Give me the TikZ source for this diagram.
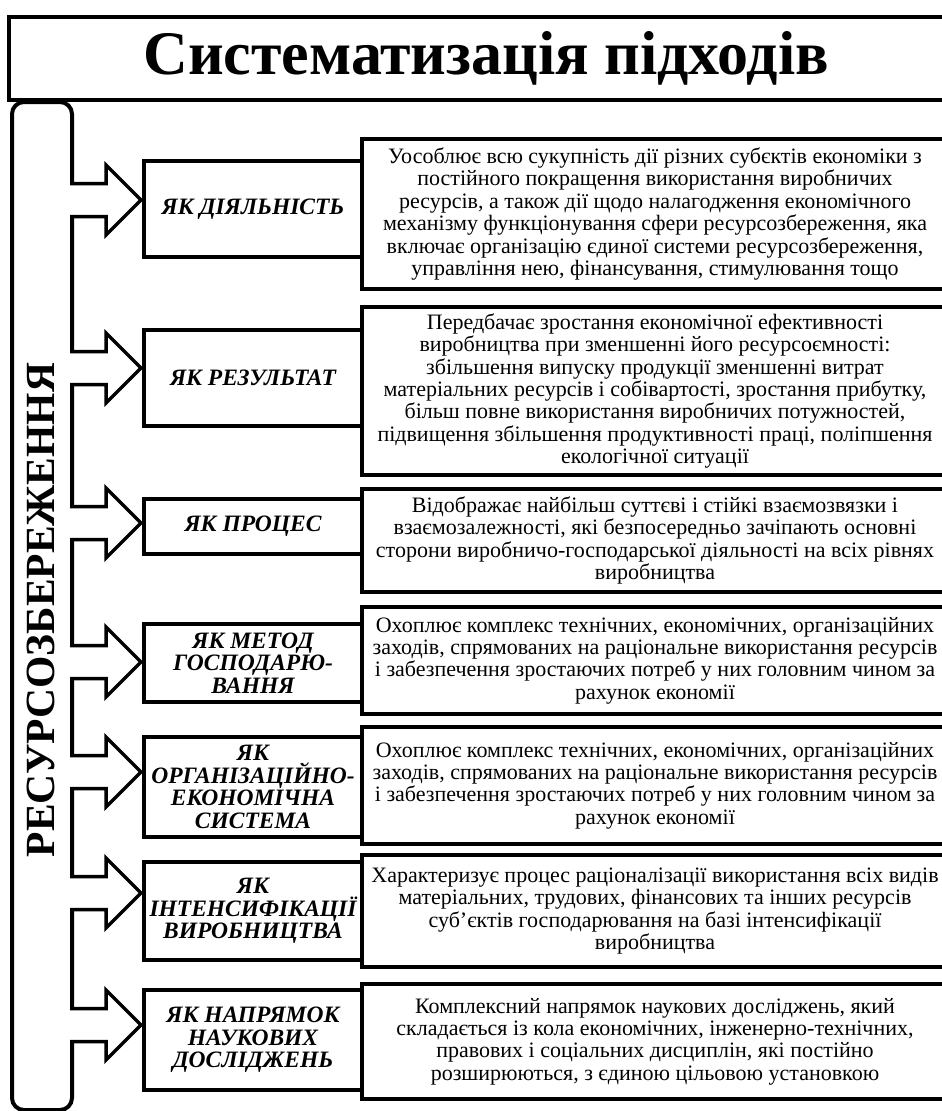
\documentclass[tikz,border=0pt]{standalone}
\usepackage{fontspec}
\setmainfont{Liberation Serif}
\usetikzlibrary{calc}
\begin{document}
\begin{tikzpicture}[x=1pt,y=-1pt,
  box/.style={draw, line width=4pt, fill=white, inner sep=0pt, align=center, anchor=north west},
  lab/.style={box, minimum width=218pt, font=\fontsize{23.5}{22.5}\selectfont\bfseries\itshape},
  desc/.style={box, minimum width=586pt, font=\fontsize{22}{22.4}\selectfont},
  blockarrow/.style={draw, line width=3.5pt, fill=white, line join=miter}
]
\clip (0,0) rectangle (942,1111);
\fill[white] (0,0) rectangle (942,1111);

% title
\node[box, minimum width=960pt, minimum height=83pt] (title) at (7,15) {};
\node[font=\fontsize{62}{62}\selectfont\bfseries] (titletext) at (486,58) {Систематизація підходів};

% left bar
\node[draw, line width=4pt, rounded corners=12pt, minimum width=60pt, minimum height=1008pt, anchor=north west, inner sep=0pt] (bar) at (10,100) {};
\node[rotate=90, font=\fontsize{41.5}{42}\selectfont\bfseries] (bartext) at (41,610) {РЕСУРСОЗБЕРЕЖЕННЯ};

% description boxes
\node[desc, minimum height=150pt] (d1) at (360,137) {Уособлює всю сукупність дії різних субєктів економіки з\\постійного покращення використання виробничих\\ресурсів, а також дії щодо налагодження економічного\\механізму функціонування сфери ресурсозбереження, яка\\включає організацію єдиної системи ресурсозбереження,\\управління нею, фінансування, стимулювання тощо};
\node[desc, minimum height=168pt] (d2) at (360,305) {Передбачає зростання економічної ефективності\\виробництва при зменшенні його ресурсоємності:\\збільшення випуску продукції зменшенні витрат\\матеріальних ресурсів і собівартості, зростання прибутку,\\більш повне використання виробничих потужностей,\\підвищення збільшення продуктивності праці, поліпшення\\екологічної ситуації};
\node[desc, minimum height=103pt] (d3) at (360,487) {Відображає найбільш суттєві і стійкі взаємозвязки і\\взаємозалежності, які безпосередньо зачіпають основні\\сторони виробничо-господарської діяльності на всіх рівнях\\виробництва};
\node[desc, minimum height=107pt] (d4) at (360,605) {Охоплює комплекс технічних, економічних, організаційних\\заходів, спрямованих на раціональне використання ресурсів\\і забезпечення зростаючих потреб у них головним чином за\\рахунок економії};
\node[desc, minimum height=117pt] (d5) at (360,725) {Охоплює комплекс технічних, економічних, організаційних\\заходів, спрямованих на раціональне використання ресурсів\\і забезпечення зростаючих потреб у них головним чином за\\рахунок економії};
\node[desc, minimum height=112pt] (d6) at (360,853) {Характеризує процес раціоналізації використання всіх видів\\матеріальних, трудових, фінансових та інших ресурсів\\суб’єктів господарювання на базі інтенсифікації\\виробництва};
\node[desc, minimum height=115pt] (d7) at (360,982) {Комплексний напрямок наукових досліджень, який\\складається із кола економічних, інженерно-технічних,\\правових і соціальних дисциплін, які постійно\\розширюються, з єдиною цільовою установкою};

% label boxes
\node[lab, minimum height=96pt] (l1) at (142,159) {ЯК ДІЯЛЬНІСТЬ};
\node[lab, minimum height=96pt] (l2) at (142,328) {ЯК РЕЗУЛЬТАТ};
\node[lab, minimum height=55pt] (l3) at (142,497) {ЯК ПРОЦЕС};
\node[lab, minimum height=78pt] (l4) at (142,622) {ЯК МЕТОД\\ГОСПОДАРЮ-\\ВАННЯ};
\node[lab, minimum height=100pt] (l5) at (142,735) {ЯК\\ОРГАНІЗАЦІЙНО-\\ЕКОНОМІЧНА\\СИСТЕМА};
\node[lab, minimum height=98pt] (l6) at (142,860) {ЯК\\ІНТЕНСИФІКАЦІЇ\\ВИРОБНИЦТВА};
\node[lab, minimum height=100pt] (l7) at (142,988) {ЯК НАПРЯМОК\\НАУКОВИХ\\ДОСЛІДЖЕНЬ};

% arrow tips
\coordinate (t1) at (l1.west |- 0,200);
\coordinate (t2) at (l2.west |- 0,368);
\coordinate (t3) at (l3.west |- 0,523);
\coordinate (t4) at (l4.west |- 0,662);
\coordinate (t5) at (l5.west |- 0,772);
\coordinate (t6) at (l6.west |- 0,893);
\coordinate (t7) at (l7.west |- 0,1025);

\foreach \t in {t1,t2,t3,t4,t5,t6,t7}{
  \draw[blockarrow] ($(\t)+(-72,-16.5)$) -- ++(36,0) -- ++(0,-18.5) -- ($(\t)+(-1,0)$) -- ++(-35,35) -- ++(0,-18.5) -- ++(-36,0);
}
\end{tikzpicture}
\end{document}
